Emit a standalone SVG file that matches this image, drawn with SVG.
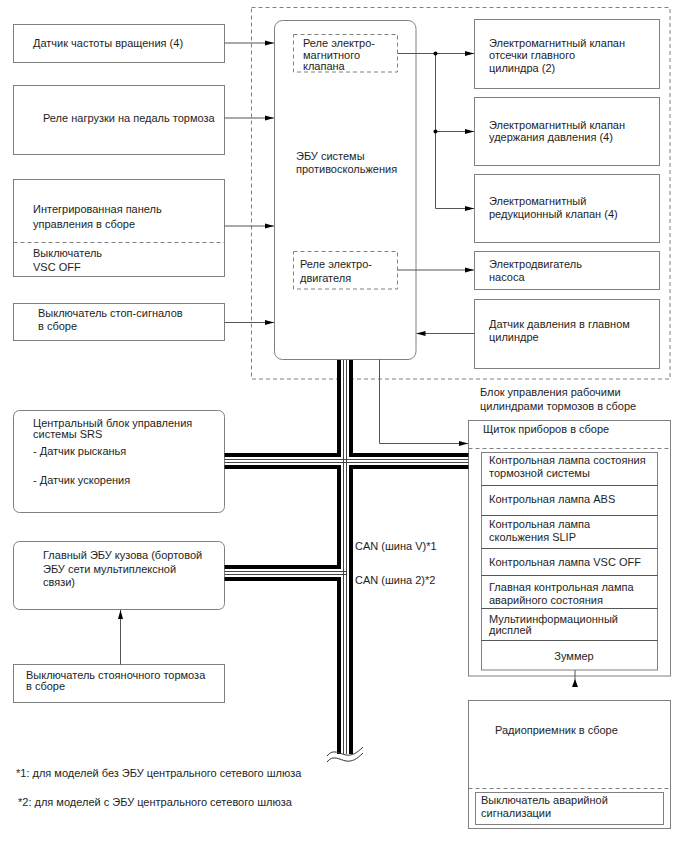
<svg xmlns="http://www.w3.org/2000/svg" width="688" height="852" viewBox="0 0 688 852">
<defs>
<style>
text{font-family:"Liberation Sans",Arial,sans-serif;font-size:11px;fill:#1e1e1e}
.box{fill:#fff;stroke:#808080;stroke-width:1}
.dbox{fill:none;stroke:#808080;stroke-width:1;stroke-dasharray:4,3}
.dl{fill:none;stroke:#808080;stroke-width:1;stroke-dasharray:4,3}
.ln{fill:none;stroke:#555;stroke-width:1}
.thick{fill:none;stroke:#000;stroke-width:4;stroke-linejoin:miter;stroke-linecap:butt}
.thin{fill:none;stroke:#444;stroke-width:1}
</style>
<marker id="ah" markerUnits="userSpaceOnUse" markerWidth="9" markerHeight="6" refX="9" refY="3" orient="auto">
<path d="M0,0.5 L9,3 L0,5.5 z" fill="#000"/>
</marker>
</defs>
<rect width="688" height="852" fill="#fff"/>

<g id="brake-actuator">
<rect class="dbox" x="251.5" y="7.5" width="418.5" height="371.5"/>
<text x="480" y="396">Блок управления рабочими</text>
<text x="480" y="410">цилиндрами тормозов в сборе</text>
</g>

<g id="speed-sensor">
<rect class="box" x="13.5" y="24.5" width="211" height="38"/>
<text x="33" y="47">Датчик частоты вращения (4)</text>
</g>
<g id="pedal-relay">
<rect class="box" x="13.5" y="85.5" width="211" height="69"/>
<text x="43" y="122">Реле нагрузки на педаль тормоза</text>
</g>
<g id="panel">
<rect class="box" x="13.5" y="179.5" width="211" height="97"/>
<line class="dl" x1="13.5" y1="242.5" x2="224.5" y2="242.5"/>
<text x="33" y="213">Интегрированная панель</text>
<text x="33" y="227.5">управления в сборе</text>
<text x="33" y="257">Выключатель</text>
<text x="33" y="271">VSC OFF</text>
</g>
<g id="stop-switch">
<rect class="box" x="13.5" y="303.5" width="211" height="37"/>
<text x="38" y="317">Выключатель стоп-сигналов</text>
<text x="38" y="330">в сборе</text>
</g>
<g id="srs">
<rect class="box" x="13.5" y="410.5" width="211" height="102" rx="6"/>
<text x="33" y="426.5">Центральный блок управления</text>
<text x="33" y="437.5">системы SRS</text>
<text x="33" y="455">- Датчик рысканья</text>
<text x="33" y="484">- Датчик ускорения</text>
</g>
<g id="body-ecu">
<rect class="box" x="13.5" y="541.5" width="211" height="68" rx="6"/>
<text x="43" y="559">Главный ЭБУ кузова (бортовой</text>
<text x="43" y="572.5">ЭБУ сети мультиплексной</text>
<text x="43" y="586">связи)</text>
</g>
<g id="parking-switch">
<rect class="box" x="13.5" y="664.5" width="211" height="38"/>
<text x="26" y="678.5">Выключатель стояночного тормоза</text>
<text x="26" y="690">в сборе</text>
</g>

<g id="ecu">
<rect class="box" x="274.5" y="20.5" width="141.5" height="339" rx="8"/>
<text x="296" y="160">ЭБУ системы</text>
<text x="296" y="173">противоскольжения</text>
</g>
<g id="valve-relay">
<rect class="dbox" x="293.5" y="34.5" width="104" height="37.5"/>
<text x="303" y="47">Реле электро-</text>
<text x="303" y="58.5">магнитного</text>
<text x="303" y="70">клапана</text>
</g>
<g id="motor-relay">
<rect class="dbox" x="293.5" y="251.5" width="104" height="37.5"/>
<text x="300" y="268">Реле электро-</text>
<text x="300" y="281.5">двигателя</text>
</g>

<g id="cut-valve">
<rect class="box" x="474.5" y="19.5" width="185" height="69"/>
<text x="489" y="47">Электромагнитный клапан</text>
<text x="489" y="59">отсечки главного</text>
<text x="489" y="71.5">цилиндра (2)</text>
</g>
<g id="hold-valve">
<rect class="box" x="474.5" y="97.5" width="185" height="68"/>
<text x="489" y="129">Электромагнитный клапан</text>
<text x="489" y="141">удержания давления (4)</text>
</g>
<g id="reduce-valve">
<rect class="box" x="474.5" y="174.5" width="185" height="68"/>
<text x="489" y="205">Электромагнитный</text>
<text x="489" y="218">редукционный клапан (4)</text>
</g>
<g id="pump-motor">
<rect class="box" x="474.5" y="251.5" width="185" height="38"/>
<text x="489" y="267.5">Электродвигатель</text>
<text x="489" y="281">насоса</text>
</g>
<g id="pressure-sensor">
<rect class="box" x="474.5" y="299.5" width="185" height="69"/>
<text x="489" y="328">Датчик давления в главном</text>
<text x="489" y="341">цилиндре</text>
</g>

<g id="cluster">
<rect class="box" x="468.5" y="420.5" width="202" height="255.5"/>
<line class="dl" x1="468.5" y1="448.5" x2="670.5" y2="448.5"/>
<text x="483" y="432.5">Щиток приборов в сборе</text>
<rect class="box" x="481.5" y="452.5" width="176" height="217.5"/>
<path class="ln" stroke="#808080" d="M481.5,485.5H657.5M481.5,515.5H657.5M481.5,548.5H657.5M481.5,575.5H657.5M481.5,608.5H657.5M481.5,640.5H657.5"/>
<text x="489" y="464">Контрольная лампа состояния</text>
<text x="489" y="477">тормозной системы</text>
<text x="489" y="502.5">Контрольная лампа ABS</text>
<text x="489" y="528">Контрольная лампа</text>
<text x="489" y="541">скольжения SLIP</text>
<text x="489" y="566">Контрольная лампа VSC OFF</text>
<text x="489" y="591">Главная контрольная лампа</text>
<text x="489" y="603.5">аварийного состояния</text>
<text x="489" y="622.5">Мультиинформационный</text>
<text x="489" y="634">дисплей</text>
<text x="574" y="660" text-anchor="middle">Зуммер</text>
</g>

<g id="radio">
<rect class="box" x="468.5" y="700.5" width="202" height="128"/>
<line class="dl" x1="468.5" y1="788.5" x2="670.5" y2="788.5"/>
<rect class="box" x="475.5" y="792.5" width="188" height="32"/>
<text x="495" y="733.5">Радиоприемник в сборе</text>
<text x="481" y="804">Выключатель аварийной</text>
<text x="481" y="817">сигнализации</text>
</g>

<g id="connectors">
<path class="ln" marker-end="url(#ah)" d="M224.5,43H274"/>
<path class="ln" marker-end="url(#ah)" d="M224.5,118H274"/>
<path class="ln" marker-end="url(#ah)" d="M224.5,226H274"/>
<path class="ln" marker-end="url(#ah)" d="M224.5,322.5H274"/>
<path class="ln" marker-end="url(#ah)" d="M397.5,53.5H474"/>
<path class="ln" d="M435.5,53.5V208.5"/>
<path class="ln" marker-end="url(#ah)" d="M435.5,131.5H474"/>
<path class="ln" marker-end="url(#ah)" d="M435.5,208.5H474"/>
<circle cx="435.5" cy="53.5" r="2" fill="#000"/>
<circle cx="435.5" cy="131.5" r="2" fill="#000"/>
<path class="ln" marker-end="url(#ah)" d="M397.5,270H474"/>
<path class="ln" marker-end="url(#ah)" d="M474.5,333.5H416.5"/>
<path class="ln" marker-end="url(#ah)" d="M379.5,359.5V443.5H468"/>
<path class="ln" marker-end="url(#ah)" d="M120.5,664.5V610"/>
<path class="ln" d="M575,670V686"/>
<polygon points="575,679 572,687 578,687" fill="#000"/>
<rect x="337" y="360" width="16" height="394" fill="#fff"/>
<path class="thick" d="M339,360V455H224.5"/>
<path class="thick" d="M351,360V455H468.5"/>
<path class="thick" d="M224.5,467H339V567H224.5"/>
<path class="thick" d="M224.5,579H339V754"/>
<path class="thick" d="M468.5,467H351V754"/>
<path class="thin" d="M343.5,360V754M346.5,360V754M224.5,459.5H468.5M224.5,462.5H468.5M224.5,571.5H346.5M224.5,574.5H346.5"/>
<path fill="none" stroke="#333" stroke-width="1" d="M327,756 C333,748 340,754 346,755 C352,756 357,753 363,747"/>
<path fill="none" stroke="#333" stroke-width="1" d="M327,762 C333,754 340,760 346,761 C352,762 357,759 363,753"/>
<text x="355" y="550">CAN (шина V)*1</text>
<text x="355" y="584">CAN (шина 2)*2</text>
</g>

<g id="notes">
<text x="16" y="777">*1: для моделей без ЭБУ центрального сетевого шлюза</text>
<text x="18" y="806">*2: для моделей с ЭБУ центрального сетевого шлюза</text>
</g>
</svg>
